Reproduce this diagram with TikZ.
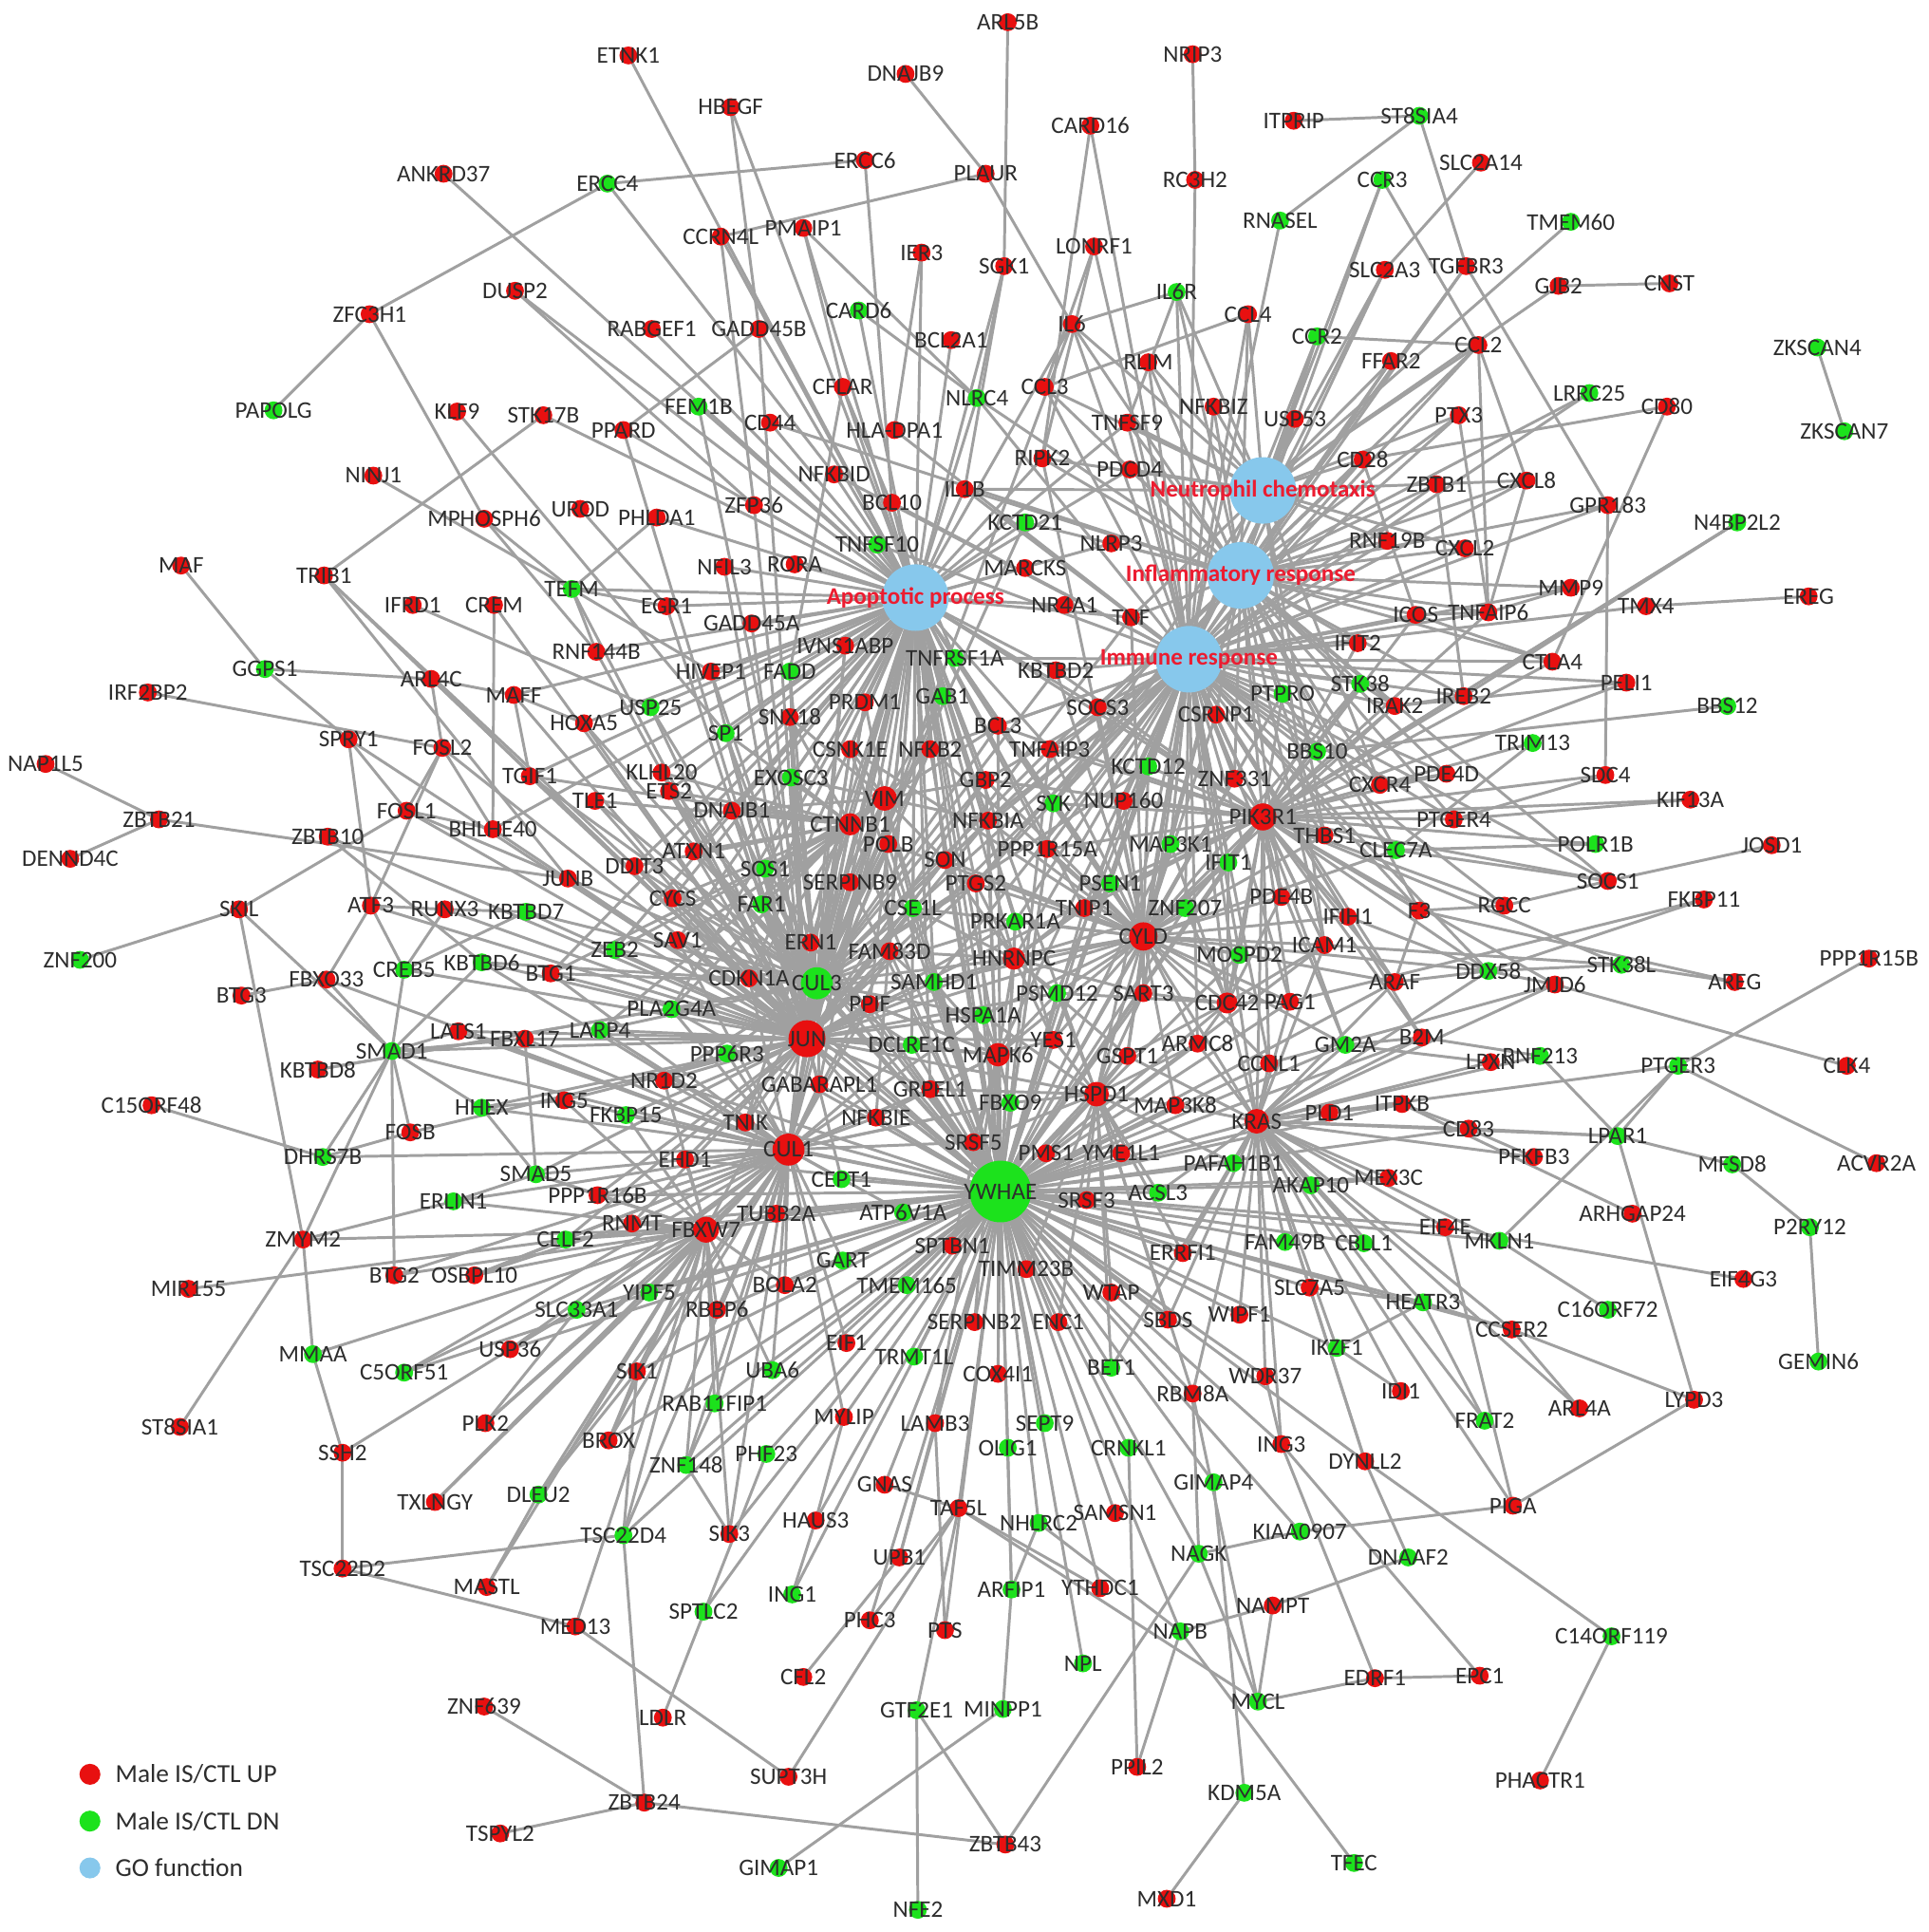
\documentclass[tikz,border=0pt]{standalone}
\usepackage{fontspec}
\setmainfont{Carlito}
\usepackage{tikz}
\definecolor{upred}{RGB}{232,16,16}
\definecolor{dngreen}{RGB}{28,226,28}
\definecolor{goblue}{RGB}{135,200,236}
\definecolor{edgegray}{RGB}{160,160,160}
\definecolor{gotext}{RGB}{236,28,48}
\definecolor{labtext}{RGB}{45,45,45}
\pgfdeclarelayer{edges}
\pgfsetlayers{edges,main}
\tikzset{
  glabel/.style={font=\fontsize{5.5}{6}\selectfont, text=labtext, inner sep=0pt},
  gene/.style={circle, inner sep=0pt, minimum size=1.45mm},
  upreg/.style={gene, fill=upred, label={[glabel]center:#1}},
  dnreg/.style={gene, fill=dngreen, label={[glabel]center:#1}},
  goterm/.style={circle, inner sep=0pt, fill=goblue, minimum size=5.4mm,
    label={[glabel, text=gotext, font=\fontsize{5.5}{6}\selectfont\bfseries]center:#1}},
  link/.style={draw=edgegray, line width=0.65pt}
}

\begin{document}
\begin{tikzpicture}[x=0.1mm, y=-0.1mm]
\useasboundingbox (0,0) rectangle (1565,1568);

% GO functions
\node[goterm=Neutrophil chemotaxis] (neut) at (1025,398) {};
\node[goterm=Inflammatory response] (infl) at (1007,467) {};
\node[goterm=Immune response] (immu) at (965,535) {};
\node[goterm=Apoptotic process] (apop) at (743,485) {};

% top
\node[upreg=ETNK1] (ETNK1) at (510,45) {};
\node[upreg=ARL5B] (ARL5B) at (818,18) {};
\node[upreg=DNAJB9] (DNAJB9) at (735,60) {};
\node[upreg=NRIP3] (NRIP3) at (968,44) {};
\node[upreg=HBEGF] (HBEGF) at (593,87) {};
\node[upreg=ITPRIP] (ITPRIP) at (1050,98) {};
\node[dnreg=ST8SIA4] (ST8SIA4) at (1152,94) {};
\node[upreg=CARD16] (CARD16) at (885,102) {};
\node[upreg=ERCC6] (ERCC6) at (702,130) {};
\node[upreg=PLAUR] (PLAUR) at (800,141) {};
\node[upreg=ANKRD37] (ANKRD37) at (360,141) {};
\node[dnreg=ERCC4] (ERCC4) at (493,149) {};
\node[upreg=RC3H2] (RC3H2) at (970,146) {};
\node[dnreg=CCR3] (CCR3) at (1122,146) {};
\node[upreg=SLC2A14] (SLC2A14) at (1202,132) {};
\node[upreg=CCRN4L] (CCRN4L) at (585,192) {};
\node[upreg=PMAIP1] (PMAIP1) at (652,185) {};
\node[dnreg=TMEM60] (TMEM60) at (1275,180) {};
\node[dnreg=RNASEL] (RNASEL) at (1039,179) {};
\node[upreg=IER3] (IER3) at (748,205) {};
\node[upreg=SGK1] (SGK1) at (815,216) {};
\node[upreg=LONRF1] (LONRF1) at (888,200) {};
\node[upreg=SLC2A3] (SLC2A3) at (1124,219) {};
\node[upreg=TGFBR3] (TGFBR3) at (1190,216) {};
\node[upreg=GJB2] (GJB2) at (1265,232) {};
\node[upreg=CNST] (CNST) at (1355,230) {};
\node[upreg=ZFC3H1] (ZFC3H1) at (300,255) {};
\node[upreg=DUSP2] (DUSP2) at (418,236) {};
\node[upreg=RABGEF1] (RABGEF1) at (529,267) {};
\node[upreg=GADD45B] (GADD45B) at (616,267) {};
\node[dnreg=CARD6] (CARD6) at (697,252) {};
\node[upreg=BCL2A1] (BCL2A1) at (772,276) {};
\node[upreg=IL6] (IL6) at (870,263) {};
\node[dnreg=IL6R] (IL6R) at (955,237) {};
\node[upreg=CCL4] (CCL4) at (1013,255) {};
\node[upreg=RLIM] (RLIM) at (932,294) {};
\node[dnreg=CCR2] (CCR2) at (1069,273) {};
\node[upreg=FFAR2] (FFAR2) at (1129,293) {};
\node[upreg=CCL2] (CCL2) at (1200,280) {};
\node[dnreg=ZKSCAN4] (ZKSCAN4) at (1475,282) {};
\node[dnreg=PAPOLG] (PAPOLG) at (222,333) {};
\node[upreg=KLF9] (KLF9) at (371,334) {};
\node[upreg=STK17B] (STK17B) at (441,337) {};
\node[upreg=PPARD] (PPARD) at (506,349) {};
\node[dnreg=FEM1B] (FEM1B) at (567,330) {};
\node[upreg=CFLAR] (CFLAR) at (684,314) {};
\node[dnreg=NLRC4] (NLRC4) at (793,323) {};
\node[upreg=CCL3] (CCL3) at (848,314) {};
\node[upreg=CD44] (CD44) at (625,343) {};
\node[upreg=HLA-DPA1] (HLADPA1) at (726,349) {};
\node[upreg=TNFSF9] (TNFSF9) at (915,343) {};
\node[upreg=NFKBIZ] (NFKBIZ) at (985,330) {};
\node[upreg=USP53] (USP53) at (1051,340) {};
\node[upreg=PTX3] (PTX3) at (1184,337) {};
\node[dnreg=LRRC25] (LRRC25) at (1290,319) {};
\node[upreg=CD80] (CD80) at (1353,330) {};
\node[dnreg=ZKSCAN7] (ZKSCAN7) at (1497,350) {};

% upper middle
\node[upreg=NINJ1] (NINJ1) at (303,386) {};
\node[upreg=MPHOSPH6] (MPHOSPH6) at (393,421) {};
\node[upreg=UROD] (UROD) at (471,413) {};
\node[upreg=PHLDA1] (PHLDA1) at (533,420) {};
\node[upreg=NFKBID] (NFKBID) at (677,385) {};
\node[upreg=ZFP36] (ZFP36) at (612,410) {};
\node[upreg=BCL10] (BCL10) at (724,408) {};
\node[upreg=IL1B] (IL1B) at (783,397) {};
\node[upreg=RIPK2] (RIPK2) at (846,372) {};
\node[upreg=PDCD4] (PDCD4) at (917,381) {};
\node[upreg=CD28] (CD28) at (1106,373) {};
\node[upreg=ZBTB1] (ZBTB1) at (1166,393) {};
\node[upreg=CXCL8] (CXCL8) at (1239,390) {};
\node[upreg=GPR183] (GPR183) at (1305,410) {};
\node[dnreg=N4BP2L2] (N4BP2L2) at (1410,424) {};
\node[upreg=MAF] (MAF) at (147,459) {};
\node[upreg=TRIB1] (TRIB1) at (263,467) {};
\node[upreg=IFRD1] (IFRD1) at (335,491) {};
\node[upreg=CREM] (CREM) at (401,491) {};
\node[dnreg=TEFM] (TEFM) at (464,478) {};
\node[upreg=NFIL3] (NFIL3) at (588,460) {};
\node[upreg=RORA] (RORA) at (645,458) {};
\node[dnreg=TNFSF10] (TNFSF10) at (712,442) {};
\node[dnreg=KCTD21] (KCTD21) at (832,424) {};
\node[upreg=NLRP3] (NLRP3) at (902,441) {};
\node[upreg=MARCKS] (MARCKS) at (832,461) {};
\node[upreg=NR4A1] (NR4A1) at (864,491) {};
\node[upreg=TNF] (TNF) at (918,501) {};
\node[upreg=RNF19B] (RNF19B) at (1126,439) {};
\node[upreg=CXCL2] (CXCL2) at (1189,445) {};
\node[upreg=MMP9] (MMP9) at (1275,477) {};
\node[upreg=TMX4] (TMX4) at (1336,492) {};
\node[upreg=EREG] (EREG) at (1468,484) {};
\node[upreg=EGR1] (EGR1) at (541,492) {};
\node[upreg=GADD45A] (GADD45A) at (610,506) {};
\node[upreg=IVNS1ABP] (IVNS1ABP) at (686,524) {};
\node[dnreg=TNFRSF1A] (TNFRSF1A) at (775,534) {};
\node[upreg=KBTBD2] (KBTBD2) at (857,544) {};
\node[upreg=ICOS] (ICOS) at (1149,499) {};
\node[upreg=TNFAIP6] (TNFAIP6) at (1208,497) {};
\node[upreg=IFIT2] (IFIT2) at (1102,522) {};
\node[upreg=CTLA4] (CTLA4) at (1260,537) {};
\node[upreg=PELI1] (PELI1) at (1320,554) {};
\node[dnreg=GGPS1] (GGPS1) at (215,543) {};
\node[upreg=RNF144B] (RNF144B) at (484,529) {};
\node[upreg=ARL4C] (ARL4C) at (350,551) {};
\node[upreg=HIVEP1] (HIVEP1) at (577,545) {};
\node[dnreg=FADD] (FADD) at (641,545) {};
\node[upreg=IRF2BP2] (IRF2BP2) at (120,562) {};
\node[upreg=MAFF] (MAFF) at (417,564) {};
\node[dnreg=USP25] (USP25) at (528,574) {};
\node[dnreg=GAB1] (GAB1) at (765,565) {};
\node[upreg=PRDM1] (PRDM1) at (702,570) {};
\node[upreg=SOCS3] (SOCS3) at (891,574) {};
\node[upreg=CSRNP1] (CSRNP1) at (987,580) {};
\node[dnreg=PTPRO] (PTPRO) at (1041,563) {};
\node[dnreg=STK38] (STK38) at (1104,555) {};
\node[upreg=IRAK2] (IRAK2) at (1132,573) {};
\node[upreg=IREB2] (IREB2) at (1188,565) {};
\node[dnreg=BBS12] (BBS12) at (1402,573) {};

% middle band
\node[upreg=HOXA5] (HOXA5) at (474,587) {};
\node[upreg=SPRY1] (SPRY1) at (283,600) {};
\node[upreg=FOSL2] (FOSL2) at (359,607) {};
\node[dnreg=SP1] (SP1) at (589,595) {};
\node[upreg=SNX18] (SNX18) at (641,582) {};
\node[upreg=CSNK1E] (CSNK1E) at (690,608) {};
\node[upreg=NFKB2] (NFKB2) at (755,608) {};
\node[upreg=BCL3] (BCL3) at (810,589) {};
\node[upreg=TNFAIP3] (TNFAIP3) at (852,608) {};
\node[dnreg=KCTD12] (KCTD12) at (932,622) {};
\node[upreg=ZNF331] (ZNF331) at (1002,632) {};
\node[dnreg=BBS10] (BBS10) at (1069,610) {};
\node[dnreg=TRIM13] (TRIM13) at (1244,603) {};
\node[upreg=NAP1L5] (NAP1L5) at (37,620) {};
\node[upreg=TGIF1] (TGIF1) at (430,630) {};
\node[upreg=KLHL20] (KLHL20) at (537,627) {};
\node[dnreg=EXOSC3] (EXOSC3) at (642,631) {};
\node[upreg=ETS2] (ETS2) at (543,642) {};
\node[upreg=VIM, minimum size=2mm] (VIM) at (718,648) {};
\node[upreg=GBP2] (GBP2) at (800,633) {};
\node[dnreg=SYK] (SYK) at (855,652) {};
\node[upreg=NUP160] (NUP160) at (912,650) {};
\node[upreg=PIK3R1, minimum size=2.2mm] (PIK3R1) at (1025,663) {};
\node[upreg=PDE4D] (PDE4D) at (1174,628) {};
\node[upreg=CXCR4] (CXCR4) at (1120,637) {};
\node[upreg=SDC4] (SDC4) at (1303,629) {};
\node[upreg=KIF13A] (KIF13A) at (1372,649) {};
\node[upreg=ZBTB21] (ZBTB21) at (129,665) {};
\node[upreg=TLE1] (TLE1) at (483,650) {};
\node[upreg=FOSL1] (FOSL1) at (330,658) {};
\node[upreg=DNAJB1] (DNAJB1) at (594,658) {};
\node[upreg=CTNNB1, minimum size=1.8mm] (CTNNB1) at (690,669) {};
\node[upreg=BHLHE40] (BHLHE40) at (400,673) {};
\node[upreg=NFKBIA] (NFKBIA) at (802,666) {};
\node[upreg=PPP1R15A] (PPP1R15A) at (850,689) {};
\node[upreg=THBS1] (THBS1) at (1075,678) {};
\node[upreg=PTGER4] (PTGER4) at (1180,665) {};
\node[upreg=ZBTB10] (ZBTB10) at (266,679) {};
\node[upreg=DENND4C] (DENND4C) at (57,697) {};
\node[upreg=DDIT3] (DDIT3) at (515,703) {};
\node[upreg=ATXN1] (ATXN1) at (563,691) {};
\node[upreg=POLB] (POLB) at (721,685) {};
\node[upreg=SON] (SON) at (767,698) {};
\node[dnreg=MAP3K1] (MAP3K1) at (950,685) {};
\node[dnreg=IFIT1] (IFIT1) at (997,700) {};
\node[dnreg=CLEC7A] (CLEC7A) at (1133,690) {};
\node[dnreg=POLR1B] (POLR1B) at (1295,685) {};
\node[upreg=JOSD1] (JOSD1) at (1438,686) {};
\node[upreg=JUNB] (JUNB) at (461,713) {};
\node[dnreg=SOS1] (SOS1) at (621,705) {};
\node[upreg=SERPINB9] (SERPINB9) at (690,716) {};
\node[upreg=PTGS2] (PTGS2) at (792,717) {};
\node[dnreg=PSEN1] (PSEN1) at (901,717) {};
\node[upreg=SOCS1] (SOCS1) at (1305,715) {};
\node[upreg=SKIL] (SKIL) at (194,738) {};
\node[upreg=ATF3] (ATF3) at (301,735) {};
\node[upreg=RUNX3] (RUNX3) at (361,738) {};
\node[dnreg=KBTBD7] (KBTBD7) at (427,740) {};
\node[upreg=CYCS] (CYCS) at (546,729) {};
\node[dnreg=FAR1] (FAR1) at (618,734) {};
\node[dnreg=CSE1L] (CSE1L) at (741,737) {};
\node[upreg=TNIP1] (TNIP1) at (880,737) {};
\node[dnreg=ZNF207] (ZNF207) at (962,737) {};
\node[upreg=PDE4B] (PDE4B) at (1040,728) {};
\node[upreg=IFIH1] (IFIH1) at (1094,744) {};
\node[upreg=F3] (F3) at (1152,739) {};
\node[upreg=RGCC] (RGCC) at (1221,735) {};
\node[upreg=FKBP11] (FKBP11) at (1383,730) {};
\node[dnreg=PRKAR1A] (PRKAR1A) at (824,748) {};
\node[upreg=CYLD, minimum size=2.3mm] (CYLD) at (928,760) {};
\node[upreg=ICAM1] (ICAM1) at (1075,767) {};
\node[dnreg=ZNF200] (ZNF200) at (65,779) {};
\node[dnreg=ZEB2] (ZEB2) at (499,771) {};
\node[upreg=SAV1] (SAV1) at (550,763) {};
\node[upreg=ERN1] (ERN1) at (658,765) {};
\node[upreg=FAM83D] (FAM83D) at (722,772) {};
\node[upreg=HNRNPC, minimum size=1.8mm] (HNRNPC) at (823,778) {};
\node[dnreg=MOSPD2] (MOSPD2) at (1006,775) {};
\node[upreg=PPP1R15B] (PPP1R15B) at (1517,778) {};
\node[dnreg=CREB5] (CREB5) at (328,787) {};
\node[dnreg=KBTBD6] (KBTBD6) at (391,781) {};
\node[upreg=BTG1] (BTG1) at (447,790) {};
\node[upreg=CDKN1A] (CDKN1A) at (608,794) {};
\node[dnreg=CUL3, minimum size=2.6mm] (CUL3) at (663,798) {};
\node[dnreg=SAMHD1] (SAMHD1) at (758,797) {};
\node[dnreg=PSMD12] (PSMD12) at (858,806) {};
\node[upreg=SART3] (SART3) at (928,806) {};
\node[upreg=CDC42, minimum size=1.7mm] (CDC42) at (996,814) {};
\node[upreg=PAG1] (PAG1) at (1047,813) {};
\node[upreg=ARAF] (ARAF) at (1132,797) {};
\node[dnreg=DDX58] (DDX58) at (1208,788) {};
\node[dnreg=STK38L] (STK38L) at (1316,783) {};
\node[upreg=JMJD6] (JMJD6) at (1262,799) {};
\node[upreg=AREG] (AREG) at (1408,797) {};
\node[upreg=BTG3] (BTG3) at (196,808) {};
\node[upreg=FBXO33] (FBXO33) at (265,795) {};
\node[dnreg=PLA2G4A] (PLA2G4A) at (545,819) {};
\node[upreg=PPIF] (PPIF) at (706,815) {};
\node[dnreg=HSPA1A] (HSPA1A) at (798,824) {};
\node[upreg=LATS1] (LATS1) at (372,837) {};
\node[upreg=FBXL17] (FBXL17) at (426,843) {};
\node[dnreg=LARP4] (LARP4) at (487,836) {};
\node[dnreg=SMAD1] (SMAD1) at (318,853) {};
\node[upreg=YES1] (YES1) at (855,844) {};
\node[upreg=ARMC8] (ARMC8) at (972,847) {};
\node[dnreg=GM2A] (GM2A) at (1092,848) {};
\node[upreg=B2M] (B2M) at (1154,842) {};
\node[upreg=JUN, minimum size=3mm] (JUN) at (655,843) {};
\node[dnreg=DCLRE1C] (DCLRE1C) at (740,848) {};
\node[dnreg=PPP6R3] (PPP6R3) at (590,855) {};
\node[upreg=MAPK6, minimum size=1.9mm] (MAPK6) at (810,856) {};
\node[upreg=GSPT1] (GSPT1) at (915,857) {};
\node[upreg=CCNL1] (CCNL1) at (1030,863) {};
\node[upreg=LPXN] (LPXN) at (1210,862) {};
\node[dnreg=RNF213] (RNF213) at (1250,857) {};
\node[dnreg=PTGER3] (PTGER3) at (1362,865) {};
\node[upreg=CLK4] (CLK4) at (1499,865) {};
\node[upreg=KBTBD8] (KBTBD8) at (258,868) {};
\node[upreg=NR1D2] (NR1D2) at (539,877) {};
\node[upreg=GABARAPL1] (GABARAPL1) at (665,880) {};
\node[upreg=GRPEL1] (GRPEL1) at (755,884) {};
\node[upreg=HSPD1, minimum size=2mm] (HSPD1) at (890,888) {};
\node[dnreg=FBXO9] (FBXO9) at (820,895) {};
\node[upreg=MAP3K8] (MAP3K8) at (954,897) {};
\node[upreg=C15ORF48] (C15ORF48) at (123,897) {};
\node[dnreg=HHEX] (HHEX) at (391,899) {};
\node[upreg=ING5] (ING5) at (458,893) {};
\node[upreg=FOSB] (FOSB) at (333,919) {};
\node[dnreg=FKBP15] (FKBP15) at (508,905) {};
\node[upreg=TNIK] (TNIK) at (605,911) {};
\node[upreg=NFKBIE] (NFKBIE) at (711,907) {};
\node[upreg=KRAS, minimum size=2mm] (KRAS) at (1020,910) {};
\node[upreg=PLD1] (PLD1) at (1079,903) {};
\node[upreg=ITPKB] (ITPKB) at (1138,896) {};
\node[upreg=CD83] (CD83) at (1192,916) {};
\node[upreg=PFKFB3] (PFKFB3) at (1245,939) {};
\node[dnreg=LPAR1] (LPAR1) at (1313,922) {};
\node[upreg=SRSF5] (SRSF5) at (790,927) {};
\node[upreg=CUL1, minimum size=2.6mm] (CUL1) at (640,933) {};
\node[upreg=EHD1] (EHD1) at (556,941) {};
\node[dnreg=DHRS7B] (DHRS7B) at (262,939) {};
\node[dnreg=SMAD5] (SMAD5) at (435,953) {};
\node[upreg=PMS1] (PMS1) at (849,936) {};
\node[upreg=YME1L1] (YME1L1) at (910,936) {};
\node[dnreg=PAFAH1B1] (PAFAH1B1) at (1001,944) {};
\node[dnreg=MFSD8] (MFSD8) at (1406,945) {};
\node[upreg=ACVR2A] (ACVR2A) at (1523,944) {};
\node[dnreg=CEPT1] (CEPT1) at (683,957) {};
\node[dnreg=YWHAE, minimum size=5mm] (YWHAE) at (812,967) {};
\node[dnreg=ERLIN1] (ERLIN1) at (368,975) {};
\node[upreg=PPP1R16B] (PPP1R16B) at (485,970) {};
\node[dnreg=AKAP10] (AKAP10) at (1064,962) {};
\node[upreg=MEX3C] (MEX3C) at (1127,956) {};
\node[dnreg=ACSL3] (ACSL3) at (940,968) {};
\node[upreg=SRSF3] (SRSF3) at (882,974) {};
\node[upreg=TUBB2A] (TUBB2A) at (630,985) {};
\node[dnreg=ATP6V1A] (ATP6V1A) at (733,984) {};
\node[upreg=FBXW7, minimum size=2.1mm] (FBXW7) at (573,998) {};
\node[upreg=RNMT] (RNMT) at (513,993) {};
\node[upreg=ARHGAP24] (ARHGAP24) at (1325,985) {};
\node[dnreg=P2RY12] (P2RY12) at (1469,996) {};

% lower part
\node[upreg=ZMYM2] (ZMYM2) at (246,1006) {};
\node[dnreg=CELF2] (CELF2) at (459,1006) {};
\node[dnreg=FAM49B] (FAM49B) at (1043,1008) {};
\node[dnreg=CBLL1] (CBLL1) at (1107,1009) {};
\node[upreg=EIF4E] (EIF4E) at (1173,996) {};
\node[dnreg=MKLN1] (MKLN1) at (1217,1007) {};
\node[upreg=ERRFI1] (ERRFI1) at (960,1017) {};
\node[upreg=SPTBN1] (SPTBN1) at (773,1011) {};
\node[upreg=TIMM23B] (TIMM23B) at (833,1030) {};
\node[dnreg=GART] (GART) at (684,1023) {};
\node[upreg=BTG2] (BTG2) at (320,1035) {};
\node[upreg=OSBPL10] (OSBPL10) at (385,1035) {};
\node[upreg=MIR155] (MIR155) at (153,1046) {};
\node[upreg=EIF4G3] (EIF4G3) at (1415,1038) {};
\node[dnreg=SLC33A1] (SLC33A1) at (468,1063) {};
\node[dnreg=YIPF5] (YIPF5) at (527,1049) {};
\node[upreg=BOLA2] (BOLA2) at (637,1043) {};
\node[dnreg=TMEM165] (TMEM165) at (736,1043) {};
\node[upreg=WTAP] (WTAP) at (902,1049) {};
\node[upreg=SLC7A5] (SLC7A5) at (1063,1045) {};
\node[dnreg=HEATR3] (HEATR3) at (1155,1057) {};
\node[dnreg=C16ORF72] (C16ORF72) at (1305,1063) {};
\node[upreg=RBBP6] (RBBP6) at (582,1063) {};
\node[upreg=SERPINB2] (SERPINB2) at (791,1073) {};
\node[upreg=ENC1] (ENC1) at (859,1073) {};
\node[upreg=SBDS] (SBDS) at (948,1071) {};
\node[upreg=WIPF1] (WIPF1) at (1006,1067) {};
\node[upreg=CCSER2] (CCSER2) at (1227,1079) {};
\node[dnreg=MMAA] (MMAA) at (254,1099) {};
\node[upreg=USP36] (USP36) at (414,1095) {};
\node[dnreg=C5ORF51] (C5ORF51) at (328,1114) {};
\node[upreg=EIF1] (EIF1) at (687,1090) {};
\node[dnreg=TRMT1L] (TRMT1L) at (742,1101) {};
\node[upreg=COX4I1] (COX4I1) at (810,1115) {};
\node[dnreg=BET1] (BET1) at (902,1110) {};
\node[upreg=WDR37] (WDR37) at (1027,1117) {};
\node[dnreg=IKZF1] (IKZF1) at (1085,1094) {};
\node[upreg=SIK1] (SIK1) at (517,1113) {};
\node[dnreg=UBA6] (UBA6) at (627,1112) {};
\node[dnreg=GEMIN6] (GEMIN6) at (1476,1105) {};
\node[upreg=RBM8A] (RBM8A) at (968,1131) {};
\node[upreg=IDI1] (IDI1) at (1137,1129) {};
\node[upreg=ARL4A] (ARL4A) at (1282,1143) {};
\node[upreg=LYPD3] (LYPD3) at (1375,1136) {};
\node[upreg=ST8SIA1] (ST8SIA1) at (146,1158) {};
\node[dnreg=RAB11FIP1] (RAB11FIP1) at (580,1139) {};
\node[upreg=PLK2] (PLK2) at (394,1155) {};
\node[upreg=MYLIP] (MYLIP) at (685,1150) {};
\node[upreg=LAMB3] (LAMB3) at (759,1155) {};
\node[dnreg=SEPT9] (SEPT9) at (848,1155) {};
\node[dnreg=FRAT2] (FRAT2) at (1205,1153) {};
\node[upreg=SSH2] (SSH2) at (278,1179) {};
\node[upreg=BROX] (BROX) at (494,1169) {};
\node[dnreg=OLIG1] (OLIG1) at (818,1175) {};
\node[dnreg=CRNKL1] (CRNKL1) at (916,1175) {};
\node[upreg=ING3] (ING3) at (1040,1172) {};
\node[upreg=DYNLL2] (DYNLL2) at (1108,1186) {};
\node[dnreg=ZNF148] (ZNF148) at (557,1189) {};
\node[dnreg=PHF23] (PHF23) at (622,1180) {};
\node[dnreg=GIMAP4] (GIMAP4) at (985,1203) {};
\node[upreg=GNAS] (GNAS) at (718,1205) {};
\node[upreg=TXLNGY] (TXLNGY) at (353,1219) {};
\node[dnreg=DLEU2] (DLEU2) at (437,1213) {};
\node[upreg=TAF5L] (TAF5L) at (778,1224) {};
\node[upreg=PIGA] (PIGA) at (1228,1222) {};
\node[upreg=SAMSN1] (SAMSN1) at (905,1228) {};
\node[dnreg=TSC22D4] (TSC22D4) at (506,1246) {};
\node[upreg=SIK3] (SIK3) at (592,1245) {};
\node[upreg=HAUS3] (HAUS3) at (662,1234) {};
\node[dnreg=NHLRC2] (NHLRC2) at (843,1236) {};
\node[dnreg=KIAA0907] (KIAA0907) at (1055,1243) {};
\node[dnreg=NAGK] (NAGK) at (973,1261) {};
\node[dnreg=DNAAF2] (DNAAF2) at (1143,1264) {};
\node[upreg=TSC22D2] (TSC22D2) at (278,1273) {};
\node[upreg=UPB1] (UPB1) at (730,1264) {};
\node[upreg=MASTL] (MASTL) at (395,1288) {};
\node[dnreg=ARFIP1] (ARFIP1) at (821,1290) {};
\node[upreg=YTHDC1] (YTHDC1) at (893,1289) {};
\node[dnreg=ING1] (ING1) at (643,1294) {};
\node[upreg=NAMPT] (NAMPT) at (1033,1303) {};
\node[upreg=MED13] (MED13) at (467,1320) {};
\node[dnreg=SPTLC2] (SPTLC2) at (571,1308) {};
\node[upreg=PHC3] (PHC3) at (706,1315) {};
\node[upreg=PTS] (PTS) at (767,1323) {};
\node[dnreg=NAPB] (NAPB) at (958,1324) {};
\node[dnreg=C14ORF119] (C14ORF119) at (1308,1328) {};
\node[dnreg=NPL] (NPL) at (879,1350) {};
\node[upreg=CFL2] (CFL2) at (652,1361) {};
\node[upreg=EDRF1] (EDRF1) at (1116,1362) {};
\node[upreg=EPC1] (EPC1) at (1201,1360) {};
\node[upreg=ZNF639] (ZNF639) at (393,1385) {};
\node[dnreg=MYCL] (MYCL) at (1021,1381) {};
\node[dnreg=GTF2E1] (GTF2E1) at (744,1388) {};
\node[dnreg=MINPP1] (MINPP1) at (814,1387) {};
\node[upreg=LDLR] (LDLR) at (538,1394) {};
\node[upreg=SUPT3H] (SUPT3H) at (640,1442) {};
\node[upreg=PHACTR1] (PHACTR1) at (1250,1445) {};
\node[upreg=PPIL2] (PPIL2) at (923,1434) {};
\node[dnreg=KDM5A] (KDM5A) at (1010,1455) {};
\node[upreg=ZBTB24] (ZBTB24) at (523,1463) {};
\node[upreg=TSPYL2] (TSPYL2) at (406,1488) {};
\node[upreg=ZBTB43] (ZBTB43) at (816,1497) {};
\node[dnreg=GIMAP1] (GIMAP1) at (632,1516) {};
\node[dnreg=TFEC] (TFEC) at (1099,1512) {};
\node[upreg=MXD1] (MXD1) at (947,1541) {};
\node[dnreg=NFE2] (NFE2) at (745,1550) {};

% legend
\node[gene, fill=upred, minimum size=1.7mm] (keyup) at (73,1440) {};
\node[glabel, anchor=west, font=\fontsize{6}{7}\selectfont] (keyuptext) at (93,1440) {Male IS/CTL UP};
\node[gene, fill=dngreen, minimum size=1.7mm] (keydn) at (73,1478) {};
\node[glabel, anchor=west, font=\fontsize{6}{7}\selectfont] (keydntext) at (93,1478) {Male IS/CTL DN};
\node[gene, fill=goblue, minimum size=1.7mm] (keygo) at (73,1516) {};
\node[glabel, anchor=west, font=\fontsize{6}{7}\selectfont] (keygotext) at (93,1516) {GO function};

\begin{pgfonlayer}{edges}
\fill[white] (0,0) rectangle (1565,1568);
% GO function links
\foreach \g in {ETNK1,ANKRD37,STK17B,PMAIP1,IER3,BCL2A1,CARD6,CFLAR,GADD45B,GADD45A,BCL10,TNFSF10,TNFRSF1A,FADD,CD44,ZFP36,PHLDA1,NFKBID,RIPK2,NR4A1,TNF,DDIT3,IL6,IL1B,PDCD4,NLRP3,EGR1,RORA,NFIL3,SOCS3,BCL3,TNFAIP3,TNFSF9,CYCS,SAV1,ERN1,CDKN1A,PRDM1,IVNS1ABP,HIVEP1,SNX18,MARCKS,PPARD,FEM1B,RABGEF1,NLRC4,CTNNB1,VIM,SON,SERPINB9,PTGS2,NFKBIA,NFKB2,DNAJB1,ATXN1,TNIP1,CYLD,JUN,HSPD1,PSEN1,BTG1,RNF144B,PPP1R15A,SP1,CSNK1E,SOS1,KCTD21,GBP2,DUSP2,MAFF,TEFM,USP25,HOXA5,TGIF1,BHLHE40,SGK1,CCRN4L,HBEGF,PIK3R1,GAB1,EXOSC3,KLHL20,ETS2,POLB,CSE1L,FAM83D,PPIF,HNRNPC,SAMHD1,MAPK6,HSPA1A,DCLRE1C,PRKAR1A,KBTBD2,YES1,CUL3,CUL1,YWHAE,FAR1,PLA2G4A,ZEB2,GABARAPL1,TNIK,NFKBIE,GRPEL1}
  \draw[link] (apop.center) -- (\g.center);
\foreach \g in {IL6,IL1B,TNF,CD28,CTLA4,ICOS,CCR2,CCL2,CCL3,CCL4,CXCL8,CXCL2,IFIT2,TNFSF10,TNFSF9,TNFRSF1A,HLADPA1,B2M,ICAM1,GBP2,IL6R,RC3H2,RNASEL,PTX3,NLRC4,RLIM,FFAR2,TGFBR3,GPR183,TMX4,MMP9,IRAK2,PELI1,STK38,CSRNP1,SOCS3,KBTBD2,PTPRO,NFKBIZ,LRRC25,SLC2A3,TNFAIP6,RNF19B,IFIT1,IFIH1,DDX58,CLEC7A,SYK,CXCR4,PIK3R1,NFKB2,NFKBIA,CYLD,KCTD12,ZNF331,NUP160,MAP3K1,THBS1,PSEN1,F3,IREB2,BBS10,PDE4D,USP53,BCL10,LONRF1,CARD16,NFKBID,ZBTB1,PTGER4,SOCS1,RGCC,CDC42,PAG1,BCL3,TNFAIP3,HNRNPC,PRKAR1A,PSMD12,SART3,MAPK6,YES1,HSPD1,KRAS,ARMC8,GSPT1,MOSPD2,ZNF207,TNIP1,PTGS2,PPP1R15A,SON,CSE1L,SAMHD1,YWHAE,JUN,GM2A,CCNL1,ARAF}
  \draw[link] (immu.center) -- (\g.center);
\foreach \g in {IL6,IL1B,CCL2,CCL3,CCL4,CXCL8,CXCL2,TNF,NLRP3,NFKBIZ,PTX3,TNFAIP6,CCR2,CCR3,FFAR2,LRRC25,NLRC4,RIPK2,THBS1,PTGS2,PTGER4,SYK,CXCR4,F3,SOCS3,CD44,IL6R,RNF19B,MMP9,IRAK2,TNFAIP3,CLEC7A,USP53,ZBTB1,RLIM,TNFSF9,KCTD21,PDCD4,CD28,GPR183,SLC2A3,TGFBR3,PDE4D,PDE4B,CSRNP1,PIK3R1,SOCS1,IREB2,ICOS,IFIT2,CTLA4,NFKBIA,ICAM1,CYLD,MAP3K1,ZNF331,PTPRO,STK38}
  \draw[link] (infl.center) -- (\g.center);
\foreach \g in {CCL2,CCL3,CCL4,CXCL8,CXCL2,IL1B,CCR2,CCR3,FFAR2,SYK,IL6,PTX3,USP53,NFKBIZ,TNFSF9,RIPK2,RLIM,TMEM60,GJB2,SLC2A3,CD28,RNF19B,PDCD4,IL6R,TNF,CXCR4,THBS1,ICAM1}
  \draw[link] (neut.center) -- (\g.center);

% hub genes
\foreach \g in {FOSL1,FOSL2,FOSB,ATF3,JUNB,MAFF,DDIT3,CREB5,CREM,SMAD1,SMAD5,EGR1,TGIF1,BHLHE40,TLE1,RUNX3,HHEX,ING5,LATS1,FBXL17,LARP4,PLA2G4A,PPP6R3,NR1D2,CDKN1A,SAV1,ZEB2,BTG1,HOXA5,ARL4C,SPRY1,ATXN1,CYCS,ETS2,KLHL20,DNAJB1,SP1,USP25,HIVEP1,GADD45A,GADD45B,ZFP36,PPARD,RNF144B,KBTBD6,KBTBD7,TNIK,EHD1,FKBP15,FBXW7,CUL1,CUL3,TUBB2A,GABARAPL1,CTNNB1,VIM,PIK3R1,CYLD,MAPK6,HSPD1,YWHAE,DCLRE1C,ERN1,FAM83D,SOS1,FAR1,SERPINB9,POLB,CSNK1E,NFKB2,PRDM1,TNF,IL6,PTGS2,NFKBIA,HNRNPC,TRIB1,ZBTB10,NFIL3,TEFM,PPP1R16B,RNMT,CELF2,PPIF,SAMHD1,HSPA1A,NFKBIE,GRPEL1,CEPT1,CSE1L,SON,PRKAR1A,PSMD12,YES1,GBP2,EXOSC3,SNX18,PTGS2,IVNS1ABP,FADD}
  \draw[link] (JUN.center) -- (\g.center);
\foreach \g in {FBXO33,FBXL17,FBXW7,FBXO9,SMAD5,ERLIN1,PPP1R16B,RNMT,CELF2,OSBPL10,BTG2,HHEX,ING5,FKBP15,EHD1,NR1D2,TNIK,TUBB2A,CEPT1,GART,BOLA2,RBBP6,SLC33A1,YIPF5,USP36,PLK2,SIK1,BROX,ZNF148,TSC22D4,DLEU2,SIK3,RAB11FIP1,UBA6,EIF1,MYLIP,GABARAPL1,NFKBIE,GRPEL1,CUL3,CDKN1A,PLA2G4A,LARP4,LATS1,SMAD1,KBTBD6,BTG1,CTNNB1,SAV1,DHRS7B,C5ORF51,TXLNGY,ATP6V1A,DCLRE1C,PPP6R3,YWHAE,SRSF5,FBXO9,PPIF,FAM83D,ERN1,VIM,HSPA1A}
  \draw[link] (CUL1.center) -- (\g.center);
\foreach \g in {KBTBD2,KBTBD6,KBTBD7,KBTBD8,KLHL20,KCTD12,KCTD21,SP1,USP25,EXOSC3,FADD,SNX18,HIVEP1,DNAJB1,ETS2,PRDM1,GAB1,IVNS1ABP,CSNK1E,NFKB2,VIM,POLB,SOS1,FAR1,ERN1,CDKN1A,PLA2G4A,PPP6R3,TNIK,NR1D2,LARP4,ZEB2,BTG1,CTNNB1,DDIT3,ATXN1,CYCS,SAV1,TGIF1,TLE1,HOXA5,FEM1B,MAPK6,HSPA1A,SAMHD1,FAM83D,PPIF,DCLRE1C,GABARAPL1,SERPINB9,CSE1L,YWHAE,JUNB,HNRNPC,PRKAR1A,SON,PTGS2,NFKBIA,GBP2,BCL3,TNFAIP3}
  \draw[link] (CUL3.center) -- (\g.center);
\foreach \g in {RNMT,CELF2,OSBPL10,PPP1R16B,SMAD5,BTG2,ZMYM2,MMAA,USP36,PLK2,SLC33A1,YIPF5,SIK1,BROX,TSC22D4,DLEU2,SIK3,ZNF148,RAB11FIP1,RBBP6,BOLA2,UBA6,EHD1,FKBP15,TUBB2A,MASTL,TXLNGY,C5ORF51,ERLIN1,NR1D2,ING5,MED13}
  \draw[link] (FBXW7.center) -- (\g.center);
\foreach \g in {SRSF5,PMS1,YME1L1,SRSF3,ACSL3,CEPT1,ATP6V1A,TUBB2A,SPTBN1,TIMM23B,GART,TMEM165,BOLA2,RBBP6,SERPINB2,ENC1,WTAP,SBDS,WIPF1,ERRFI1,FAM49B,TRMT1L,COX4I1,BET1,EIF1,UBA6,MYLIP,LAMB3,SEPT9,OLIG1,CRNKL1,GNAS,TAF5L,SAMSN1,NHLRC2,YTHDC1,PTS,PHC3,UPB1,HAUS3,ING1,NPL,NAPB,NAGK,GIMAP4,RBM8A,WDR37,ING3,SLC7A5,HEATR3,IKZF1,DYNLL2,KIAA0907,CBLL1,AKAP10,PAFAH1B1,KRAS,MAP3K8,HSPD1,FBXO9,MAPK6,GRPEL1,NFKBIE,DCLRE1C,HSPA1A,YES1,GSPT1,ARMC8,CDC42,TNIK,GABARAPL1,PPIF,SAMHD1,PSMD12,HNRNPC,RAB11FIP1,PHF23,ZNF148,SIK3,SIK1,TSC22D4,RNMT,YIPF5,SLC33A1,PPP1R16B,CELF2,BROX,USP36,EHD1,ZNF207,PRKAR1A,CSE1L,VIM,CTNNB1,MAP3K1,PIK3R1,CYLD,SART3,PAG1,MEX3C,PLD1,ITPKB,CD83,EIF4E,MKLN1,CCSER2,ARFIP1,FBXW7,NR1D2,FKBP15,SON,PTGS2,PPP1R15A,NFKBIA,GBP2,NUP160,SYK,TNIP1,PSEN1,KCTD12,BCL3,TNFAIP3,NFKB2,CSNK1E,POLB,SERPINB9,FAM83D,ERN1,CDKN1A,PLA2G4A,SOS1,FAR1,CYCS,SAV1,ATXN1,DDIT3,MOSPD2,IFIT1,ZNF331,CCNL1,GM2A,ICAM1,ARAF,B2M}
  \draw[link] (YWHAE.center) -- (\g.center);
\foreach \g in {PTPRO,STK38,IRAK2,IREB2,BBS10,CXCR4,PDE4D,THBS1,PTGER4,CLEC7A,IFIH1,F3,RGCC,ICAM1,PDE4B,IFIT1,MAP3K1,ZNF331,KCTD12,NUP160,SYK,CSRNP1,SOCS3,KBTBD2,TNFAIP3,CDC42,PAG1,ARAF,DDX58,JMJD6,STK38L,SOCS1,POLR1B,TRIM13,SDC4,KIF13A,N4BP2L2,CYLD,KRAS,CCNL1,GM2A,B2M,MOSPD2,ZNF207,PSEN1,TNIP1,GBP2,BCL3,PPP1R15A,IFIT2,ICOS,TNFAIP6,CTLA4,PELI1}
  \draw[link] (PIK3R1.center) -- (\g.center);
\foreach \g in {TNFAIP3,NFKBIA,NFKB2,BCL3,SOCS3,KBTBD2,TNIP1,PSEN1,ZNF207,MAP3K1,IFIT1,SYK,NUP160,KCTD12,GBP2,PPP1R15A,PTGS2,SON,PRKAR1A,HNRNPC,PSMD12,SART3,CDC42,MOSPD2,ARMC8,GSPT1,YES1,HSPD1,MAP3K8,KRAS,PAG1,ICAM1,CCNL1,PDE4B,IFIH1,CLEC7A,DDX58,ARAF,GM2A,THBS1,ZNF331,CSRNP1,PTPRO,STK38,IRAK2,TNF,MAPK6,HSPA1A,CSE1L,RIPK2,CSNK1E,POLB,SAMHD1}
  \draw[link] (CYLD.center) -- (\g.center);
\foreach \g in {PLD1,ITPKB,CD83,PFKFB3,LPAR1,AKAP10,MEX3C,PAFAH1B1,FAM49B,CBLL1,EIF4E,MKLN1,HEATR3,IKZF1,SLC7A5,CCSER2,WIPF1,SBDS,WDR37,IDI1,FRAT2,DYNLL2,ING3,ERRFI1,MAP3K8,GM2A,B2M,LPXN,RNF213,CCNL1,ARMC8,ARAF,PAG1,CDC42,RBM8A,ACSL3,BET1,ARL4A,PIGA,PTGER3,JMJD6,DDX58,ICAM1,GSPT1}
  \draw[link] (KRAS.center) -- (\g.center);
\foreach \g in {HSPA1A,GRPEL1,FBXO9,YES1,GSPT1,MAP3K8,PMS1,YME1L1,SRSF3,ACSL3,PSMD12,SART3,ARMC8,PAFAH1B1,ERRFI1,WTAP,SBDS,TIMM23B,SRSF5,ENC1,BET1,RBM8A}
  \draw[link] (HSPD1.center) -- (\g.center);
\foreach \g in {SRSF5,FBXO9,GRPEL1,NFKBIE,DCLRE1C,HSPA1A,SAMHD1,PPIF,FAM83D,HNRNPC,PSMD12,YES1,SPTBN1,SERPINB2,COX4I1,LAMB3}
  \draw[link] (MAPK6.center) -- (\g.center);
\foreach \g in {CSNK1E,NFKB2,GBP2,EXOSC3,POLB,SON,SERPINB9,CSE1L,FAM83D,ERN1,DNAJB1,SOS1,FAR1,CTNNB1,PRDM1,GAB1,SNX18,BCL3,NFKBIA}
  \draw[link] (VIM.center) -- (\g.center);
\foreach \g in {ATXN1,DDIT3,CYCS,SAV1,SOS1,FAR1,CDKN1A,PLA2G4A,ERN1,TLE1,ETS2,KLHL20,DNAJB1,EXOSC3,SP1,SNX18,TGIF1,ZEB2,BTG1,LARP4}
  \draw[link] (CTNNB1.center) -- (\g.center);
\foreach \g in {SART3,PSMD12,GSPT1,YES1,PRKAR1A,TNIP1,SON,PTGS2,CSE1L,FAM83D,SAMHD1,PSEN1,ZNF207}
  \draw[link] (HNRNPC.center) -- (\g.center);
\foreach \g in {PAG1,ICAM1,MOSPD2,ZNF207,ARMC8,GSPT1,SART3,PSMD12,PDE4B,IFIT1,MAP3K1}
  \draw[link] (CDC42.center) -- (\g.center);

% single links
\foreach \a/\b in {ARL5B/SGK1, DNAJB9/PLAUR, PLAUR/IL6, PLAUR/CCRN4L, NRIP3/RC3H2,
  HBEGF/GADD45B, ITPRIP/ST8SIA4, ST8SIA4/RNASEL, ST8SIA4/TGFBR3, CARD16/RIPK2,
  ERCC4/ERCC6, ERCC4/ZFC3H1, ERCC4/NFKBID, ERCC6/BCL10, CCR3/CCL2, SLC2A14/SLC2A3,
  CCRN4L/ZFP36, PMAIP1/CFLAR, PMAIP1/NLRC4, IER3/HLADPA1, SGK1/NLRC4, SGK1/IL1B,
  LONRF1/RIPK2, LONRF1/CCL3, TGFBR3/GPR183, GJB2/CNST, ZFC3H1/PAPOLG, ZFC3H1/MPHOSPH6,
  DUSP2/ZFP36, PPARD/GADD45B, CARD6/NLRC4, IL6R/IL6, IL6R/TNFSF9, CCL4/CCL3, CCR2/CCL2,
  CCL2/CXCL8, CCL2/TNFAIP6, ZKSCAN4/ZKSCAN7, KLF9/SP1, STK17B/TRIB1, CFLAR/TNFRSF1A,
  CFLAR/FADD, PTX3/TNFAIP6, CD80/CTLA4, CD80/CD28, NINJ1/TEFM, MPHOSPH6/TEFM,
  MPHOSPH6/RNF144B, UROD/EGR1, PHLDA1/TEFM, ZBTB1/IREB2, CXCL8/TNFAIP6, GPR183/SDC4,
  N4BP2L2/PIK3R1, MAF/GGPS1, TRIB1/JUNB, TRIB1/DDIT3, IFRD1/USP25, CREM/BHLHE40,
  TEFM/EGR1, TEFM/RNF144B, TEFM/HIVEP1, TMX4/EREG, PELI1/IRAK2, GGPS1/ARL4C,
  GGPS1/SPRY1, IRF2BP2/FOSL2, BBS12/BBS10, TRIM13/CLEC7A, NAP1L5/ZBTB21,
  ZBTB21/DENND4C, ZBTB21/JUNB, SDC4/PTGER4, JOSD1/SOCS1, SOCS1/CLEC7A, SOCS1/RGCC,
  FKBP11/PAG1, ZNF200/SKIL, PPP1R15B/PTGER3, AREG/F3, STK38L/ICAM1, JMJD6/CLK4,
  JMJD6/CCNL1, SKIL/SMAD1, SKIL/FOSL1, SKIL/ZMYM2, BTG3/FBXO33, KBTBD8/CUL3,
  C15ORF48/DHRS7B, DHRS7B/FOSB, FOSB/SMAD1, PTGER3/LPAR1, PTGER3/ACVR2A,
  PTGER3/MKLN1, RNF213/LPAR1, LPAR1/CD83, LPAR1/MFSD8, LPAR1/LYPD3, MFSD8/P2RY12,
  P2RY12/GEMIN6, ARHGAP24/ITPKB, EIF4G3/EIF4E, C16ORF72/MKLN1, LYPD3/CCSER2,
  LYPD3/PIGA, PIGA/KIAA0907, PIGA/EIF4E, ARL4A/CCSER2, FRAT2/HEATR3, IDI1/IKZF1,
  IKZF1/HEATR3, DYNLL2/C14ORF119, DYNLL2/DNAAF2, C14ORF119/PHACTR1, EPC1/ING3,
  EPC1/EDRF1, EDRF1/MYCL, EDRF1/ING3, TFEC/NAPB, KDM5A/MXD1, KDM5A/GIMAP4,
  PPIL2/NAPB, PPIL2/CRNKL1, ZBTB43/NAGK, ZBTB43/GTF2E1, ZBTB43/ZBTB24, NFE2/GTF2E1,
  GTF2E1/TAF5L, GIMAP1/MINPP1, MINPP1/ARFIP1, ARFIP1/OLIG1, ARFIP1/NHLRC2,
  SUPT3H/TAF5L, MED13/SUPT3H, MED13/TSC22D2, LDLR/PHF23, CFL2/UPB1, SPTLC2/MYLIP,
  TAF5L/MYCL, NAPB/NAMPT, NAGK/KIAA0907, NAGK/MYCL, DNAAF2/NAMPT, ZBTB24/ZNF639,
  ZBTB24/TSPYL2, ZBTB24/TSC22D4, TSC22D2/TSC22D4, SSH2/TSC22D2, MMAA/SSH2,
  ZMYM2/MMAA, SSH2/USP36, MASTL/DLEU2, TXLNGY/YIPF5, PLK2/SLC33A1, C5ORF51/YIPF5,
  ST8SIA1/ZMYM2, MIR155/CELF2, BTG2/SMAD1, ZMYM2/SMAD1, ZMYM2/ERLIN1, ERLIN1/SMAD5,
  NAMPT/MYCL, SPRY1/FOSL1, SPRY1/ATF3, FOSL2/ATF3, FOSL2/FOSL1, FOSL2/BHLHE40,
  ATF3/CREB5, FOSL1/BHLHE40, FOSL1/JUNB, CREB5/SMAD1, KBTBD6/SMAD1, LATS1/SMAD1,
  FBXL17/SMAD1, HHEX/SMAD1, HHEX/SMAD5, HHEX/ING5, FBXO33/ATF3, FBXO33/SMAD1,
  ZBTB10/KBTBD6, ARL4C/MAFF, ARL4C/FOSL2, MAFF/HOXA5, MAFF/TGIF1, RUNX3/KBTBD7,
  RUNX3/CREB5, KBTBD7/CREB5, ATF3/RUNX3, SMAD5/FBXL17, PPP1R16B/SMAD5, DHRS7B/SMAD1,
  NAGK/RBM8A, RBM8A/MYCL, NHLRC2/NAPB, YTHDC1/TAF5L, PTS/LAMB3, HAUS3/MYLIP,
  ING1/HAUS3, PHC3/TAF5L, UPB1/LAMB3, GNAS/TAF5L, SIK3/ZNF148, ZNF148/RAB11FIP1,
  DLEU2/SIK1, TSC22D4/SIK1, BROX/SIK1, USP36/SLC33A1, OSBPL10/CELF2, OSBPL10/RNMT,
  ING3/WDR37, DYNLL2/SLC7A5, HEATR3/SLC7A5, CCSER2/HEATR3, CD83/PFKFB3, PLD1/ITPKB,
  CD83/ITPKB, MEX3C/AKAP10, B2M/GM2A, LPXN/GM2A, RNF213/B2M, DDX58/ARAF, F3/ARAF,
  RGCC/F3, JMJD6/DDX58, STK38L/DDX58, FKBP11/DDX58, AREG/STK38L, IFIH1/DDX58,
  CXCR4/PDE4D, BBS10/PTPRO, STK38/IRAK2, IREB2/IRAK2, CTLA4/ICOS, ICOS/CD28,
  MMP9/TNFAIP6, N4BP2L2/IREB2, KIF13A/PTGER4, POLR1B/CLEC7A, TNFAIP6/ICOS}
  \draw[link] (\a.center) -- (\b.center);
\end{pgfonlayer}
\end{tikzpicture}
\end{document}
